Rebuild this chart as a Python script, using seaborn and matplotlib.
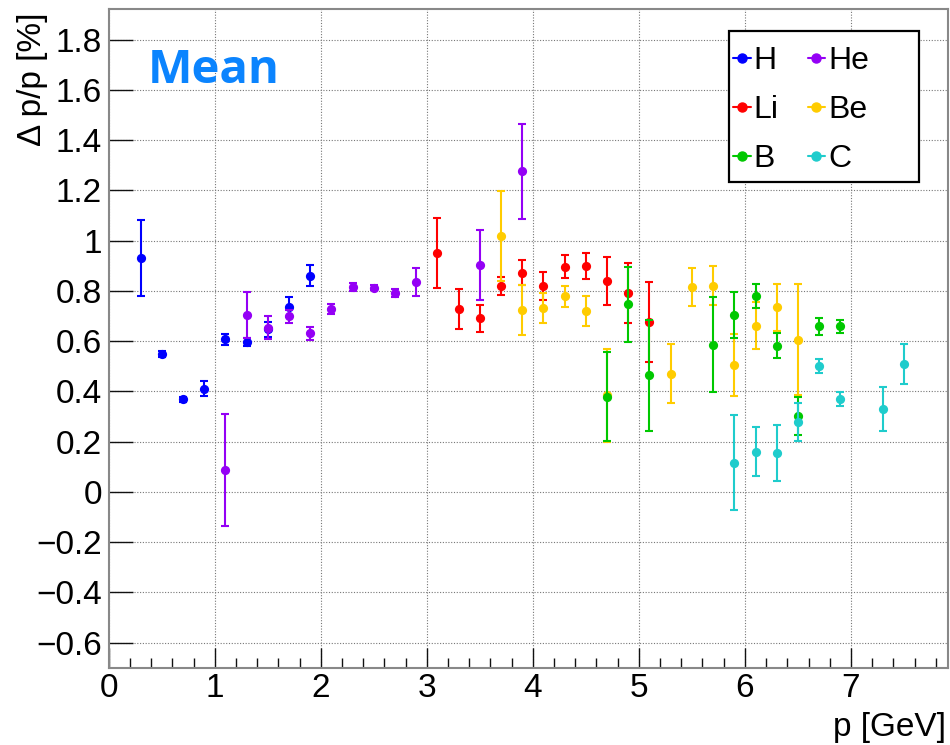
import matplotlib
matplotlib.use("Agg")
import matplotlib.pyplot as plt
from matplotlib.lines import Line2D
from matplotlib.patches import Rectangle
from matplotlib.ticker import MultipleLocator, FuncFormatter
import numpy as np
import pandas as pd
import seaborn as sns

# Momentum-resolution mean per nucleus species
h_p   = [0.3, 0.5, 0.7, 0.9, 1.1, 1.3, 1.5, 1.7, 1.9]
h_val = [0.931, 0.548, 0.368, 0.411, 0.607, 0.597, 0.647, 0.734, 0.861]
h_err = [0.150, 0.012, 0.010, 0.030, 0.023, 0.015, 0.030, 0.040, 0.040]

he_p   = [1.1, 1.3, 1.5, 1.7, 1.9, 2.1, 2.3, 2.5, 2.7, 2.9, 3.5, 3.9]
he_val = [0.087, 0.704, 0.654, 0.699, 0.631, 0.727, 0.816, 0.812, 0.792, 0.836, 0.902, 1.276]
he_err = [0.222, 0.092, 0.044, 0.025, 0.025, 0.020, 0.015, 0.010, 0.015, 0.056, 0.140, 0.188]

li_p   = [3.1, 3.3, 3.5, 3.7, 3.9, 4.1, 4.3, 4.5, 4.7, 4.9, 5.1]
li_val = [0.950, 0.727, 0.691, 0.820, 0.873, 0.820, 0.897, 0.900, 0.839, 0.791, 0.675]
li_err = [0.140, 0.080, 0.053, 0.036, 0.050, 0.056, 0.046, 0.052, 0.095, 0.120, 0.160]

be_p   = [3.7, 3.9, 4.1, 4.3, 4.5, 4.7, 5.3, 5.5, 5.7, 5.9, 6.1, 6.3, 6.5]
be_val = [1.018, 0.723, 0.731, 0.778, 0.720, 0.385, 0.471, 0.816, 0.820, 0.504, 0.662, 0.734, 0.606]
be_err = [0.180, 0.100, 0.060, 0.042, 0.058, 0.185, 0.117, 0.076, 0.078, 0.123, 0.095, 0.094, 0.220]

b_p   = [4.7, 4.9, 5.1, 5.7, 5.9, 6.1, 6.3, 6.5, 6.7, 6.9]
b_val = [0.378, 0.746, 0.464, 0.586, 0.704, 0.780, 0.582, 0.302, 0.659, 0.659]
b_err = [0.177, 0.150, 0.222, 0.190, 0.090, 0.048, 0.050, 0.077, 0.033, 0.025]

c_p   = [5.9, 6.1, 6.3, 6.5, 6.7, 6.9, 7.3, 7.5]
c_val = [0.116, 0.160, 0.155, 0.278, 0.500, 0.368, 0.330, 0.509]
c_err = [0.190, 0.098, 0.113, 0.074, 0.028, 0.028, 0.088, 0.081]

species = ["H", "He", "Li", "Be", "B", "C"]
colors = {"H": "#0000ff", "He": "#9400f5", "Li": "#ff0000",
          "Be": "#ffcc00", "B": "#00c800", "C": "#1fcccc"}

frames = []
for name, p, v, e in [("H", h_p, h_val, h_err), ("He", he_p, he_val, he_err),
                      ("Li", li_p, li_val, li_err), ("Be", be_p, be_val, be_err),
                      ("B", b_p, b_val, b_err), ("C", c_p, c_val, c_err)]:
    frames.append(pd.DataFrame({"species": name, "p": p, "mean": v, "err": e}))
df = pd.concat(frames, ignore_index=True)

sns.set_theme(style="ticks")
plt.rcParams["font.family"] = ["Liberation Sans", "DejaVu Sans"]
plt.rcParams["text.color"] = "black"

W, H = 950, 745
fig = plt.figure(figsize=(W / 100, H / 100), dpi=100)
ax = fig.add_axes([108.7 / W, 1 - 667.7 / H, (948.5 - 108.7) / W, (667.7 - 9) / H])

for i, name in enumerate(species):
    sub = df[df["species"] == name]
    col = colors[name]
    ax.errorbar(sub["p"], sub["mean"], yerr=sub["err"], fmt="none",
                ecolor=col, elinewidth=1.5, capsize=3, capthick=1.5,
                zorder=3 + 2 * i)
    sns.scatterplot(data=sub, x="p", y="mean", ax=ax, color=col, s=44,
                    marker="o", linewidth=0, zorder=4 + 2 * i, legend=False)

ax.set_xlim(0, 7.92)
ax.set_ylim(-0.7, 1.922)
ax.xaxis.set_major_locator(MultipleLocator(1))
ax.xaxis.set_minor_locator(MultipleLocator(0.2))
ax.yaxis.set_major_locator(MultipleLocator(0.2))
fmt = FuncFormatter(lambda v, _: ("%g" % round(v, 3)).replace("-", "\u2212"))
ax.xaxis.set_major_formatter(fmt)
ax.yaxis.set_major_formatter(fmt)
ax.set_xlabel("")
ax.set_ylabel("")

ax.grid(True, which="major", linestyle=(0, (1, 1.5)), color="#777777", linewidth=0.8)
ax.tick_params(axis="x", which="major", direction="in", length=14.5, width=1.0,
               color="#111111", labelcolor="black", labelsize=24, pad=4, top=False)
ax.tick_params(axis="x", which="minor", direction="in", length=7.2, width=1.0,
               color="#111111", top=False)
ax.tick_params(axis="y", which="major", direction="in", length=17.5, width=1.0,
               color="#111111", labelcolor="black", labelsize=24, pad=5, right=False)
for s in ax.spines.values():
    s.set_color("#888888")
    s.set_linewidth(1.5)

# axis titles
fig.text(33 / W, 1 - 12 / H, "\u0394 p/p [%]", rotation=90, ha="center", va="top",
         fontsize=24, color="black")
fig.text(945.7 / W, 1 - 736 / H, "p [GeV]", ha="right", va="baseline", fontsize=24,
         color="black")

# panel title
fig.text(148 / W, 1 - 83 / H, "Mean", ha="left", va="baseline", fontsize=34,
         fontweight="bold", family=["Open Sans", "DejaVu Sans"], color="#0b84fe")

# legend box
ax.add_patch(Rectangle((729 / W, 1 - 182 / H), 190 / W, 151 / H,
                       transform=fig.transFigure, fill=True, facecolor="white",
                       edgecolor="black", linewidth=1.6, zorder=30, clip_on=False))

# legend: two columns, ordered row-wise (H He / Li Be / B C)
handles = {n: Line2D([], [], color=colors[n], marker="o", markersize=6.5,
                     linewidth=1.5) for n in species}
order = ["H", "Li", "B", "He", "Be", "C"]
leg = ax.legend([handles[n] for n in order], order, ncol=2, frameon=False,
                loc="upper left", bbox_to_anchor=(733 / W, 1 - 46 / H),
                bbox_transform=fig.transFigure, fontsize=23, handlelength=0.55,
                handletextpad=0.1, columnspacing=0.9, labelspacing=0.6,
                borderpad=0, borderaxespad=0)
leg.set_zorder(40)
for t in leg.get_texts():
    t.set_color("black")

fig.savefig("out.png", dpi=100)
